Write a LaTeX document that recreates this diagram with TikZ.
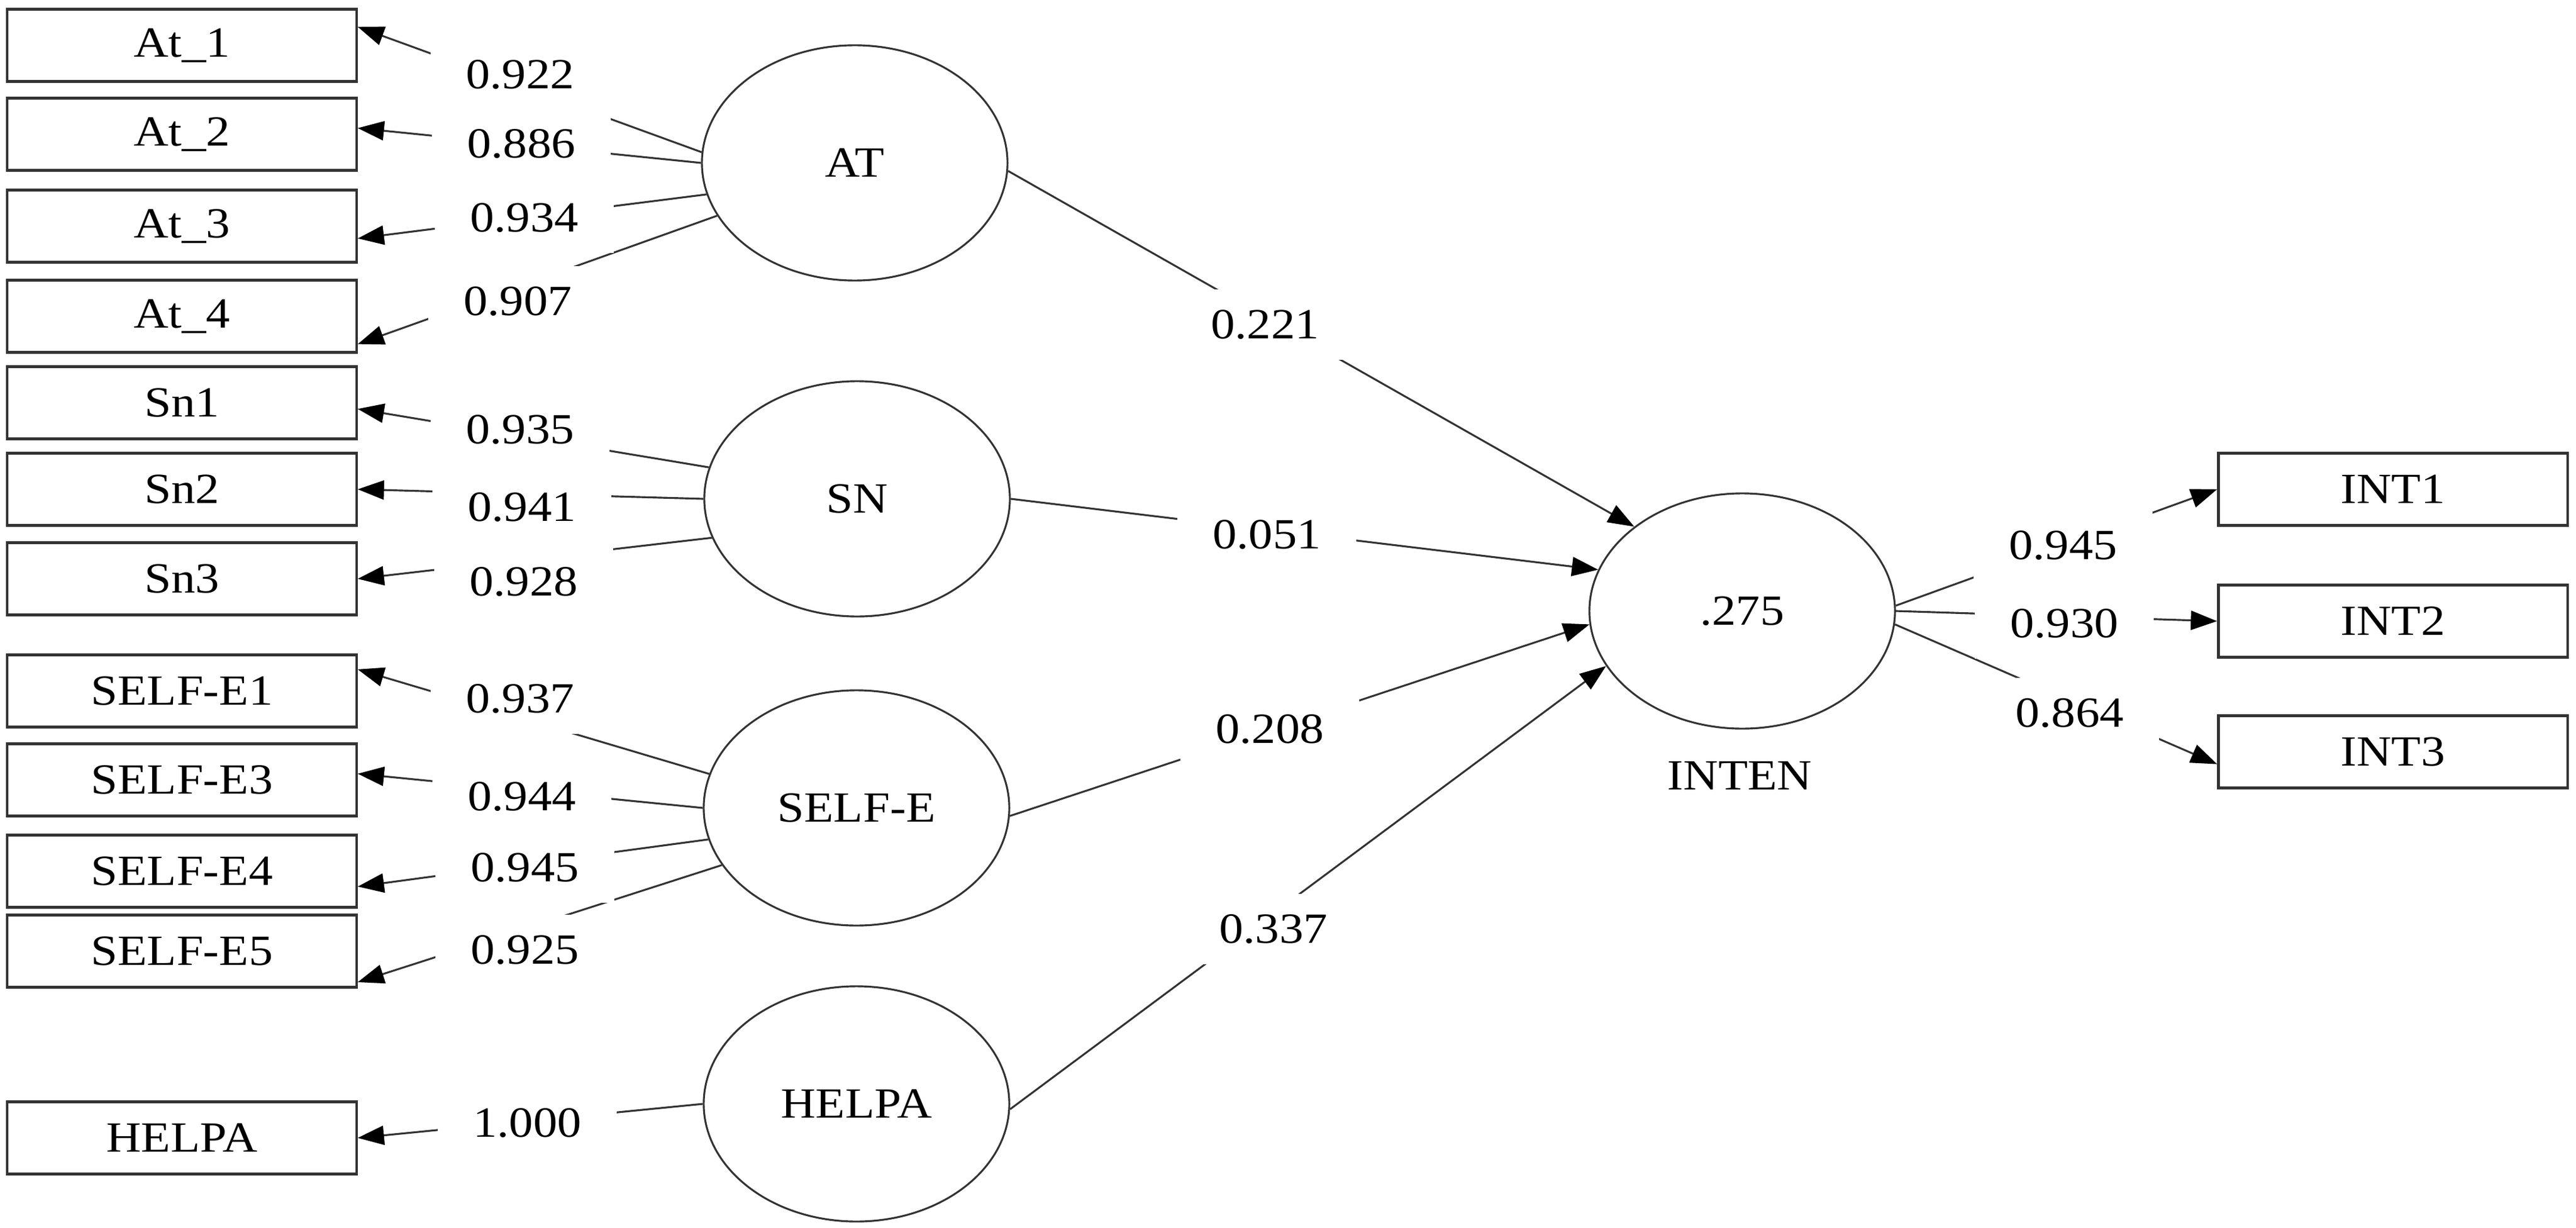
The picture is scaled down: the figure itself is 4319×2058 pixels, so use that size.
\documentclass[tikz,border=0pt]{standalone}
\usepackage{fontspec}
\setmainfont{Liberation Serif}[FakeStretch=1.12]
\usepackage{tikz}
\usetikzlibrary{arrows.meta,shapes.geometric}
\tikzset{
  item/.style   = {shape=rectangle, draw=black!80, line width=1.2pt,
                   minimum width=5.85cm, minimum height=1.21cm, inner sep=0pt},
  latent/.style = {shape=ellipse, draw=black!80, line width=0.9pt,
                   minimum width=5.12cm, minimum height=3.94cm, inner sep=0pt},
  coef/.style   = {fill=white, minimum width=3cm, minimum height=1.17cm, inner sep=0pt},
  load/.style   = {draw=black!80, line width=0.9pt,
                   -{Triangle[length=0.44cm,width=0.32cm,color=black]}}
}

\begin{document}
\begin{tikzpicture}
 [x=0.01cm, y=-0.01cm,
  every node/.style={font=\fontsize{20.5pt}{24pt}\selectfont}]

  \useasboundingbox (0,0) rectangle (4319,2058);

  % observed items
  \node [item] (at1)  at (305,76)   {At\_1};
  \node [item] (at2)  at (305,225)  {At\_2};
  \node [item] (at3)  at (305,379)  {At\_3};
  \node [item] (at4)  at (305,530)  {At\_4};
  \node [item] (sn1)  at (305,675)  {Sn1};
  \node [item] (sn2)  at (305,820)  {Sn2};
  \node [item] (sn3)  at (305,970)  {Sn3};
  \node [item] (se1)  at (305,1158) {SELF-E1};
  \node [item] (se3)  at (305,1307) {SELF-E3};
  \node [item] (se4)  at (305,1460) {SELF-E4};
  \node [item] (se5)  at (305,1594) {SELF-E5};
  \node [item] (hp1)  at (305,1907) {HELPA};
  \node [item] (int1) at (4012,820)  {INT1};
  \node [item] (int2) at (4012,1041) {INT2};
  \node [item] (int3) at (4012,1260) {INT3};

  % constructs
  \node [latent] (att)   at (1433,273)  {AT};
  \node [latent] (sn)    at (1437,836)  {SN};
  \node [latent] (se)    at (1436,1354) {SELF-E};
  \node [latent] (hp)    at (1436,1850) {HELPA};
  \node [latent] (inten) at (2921,1024) {.275};
  \node (intenlab) at (2917,1300) {INTEN};

  % loadings
  \draw [load] (att.176) -- (at1.6);
  \draw [load] (att.180) -- (at2.2.5);
  \draw [load] (att.192) -- (at3.356);
  \draw [load] (att.201) -- (at4.351);
  \draw [load] (sn.168)  -- (sn1.358);
  \draw [load] (sn.west) -- (sn2.east);
  \draw [load] (sn.195)  -- (sn3.east);
  \draw [load] (se.167)  -- (se1.7.4);
  \draw [load] (se.west) -- (se3.2.5);
  \draw [load] (se.192)  -- (se4.355);
  \draw [load] (se.203)  -- (se5.350);
  \draw [load] (hp.west) -- (hp1.east);
  \draw [load] (inten.2)    -- (int1.west);
  \draw [load] (inten.east) -- (int2.west);
  \draw [load] (inten.355)  -- (int3.184);

  % paths
  \draw [load] (att.357) -- (inten.142);
  \draw [load] (sn.east) -- (inten.164);
  \draw [load] (se.357)  -- (inten.185);
  \draw [load] (hp.358)  -- (inten.202);

  % coefficients
  \node [coef] (c1)  at (872,125)  {0.922};
  \node [coef] (c2)  at (874,241)  {0.886};
  \node [coef] (c3)  at (879,365)  {0.934};
  \node [coef] (c4)  at (868,505)  {0.907};
  \node [coef] (c5)  at (872,720)  {0.935};
  \node [coef] (c6)  at (875,850)  {0.941};
  \node [coef] (c7)  at (878,975)  {0.928};
  \node [coef] (c8)  at (872,1171) {0.937};
  \node [coef] (c9)  at (875,1335) {0.944};
  \node [coef] (c10) at (880,1454) {0.945};
  \node [coef] (c11) at (880,1592) {0.925};
  \node [coef] (c12) at (884,1882) {1.000};
  \node [coef] (p1)  at (2121,544)  {0.221};
  \node [coef] (p2)  at (2124,896)  {0.051};
  \node [coef] (p3)  at (2129,1222) {0.208};
  \node [coef] (p4)  at (2135,1557) {0.337};
  \node [coef] (d1)  at (3459,914)  {0.945};
  \node [coef] (d2)  at (3461,1045) {0.930};
  \node [coef] (d3)  at (3470,1195) {0.864};
\end{tikzpicture}
\end{document}
